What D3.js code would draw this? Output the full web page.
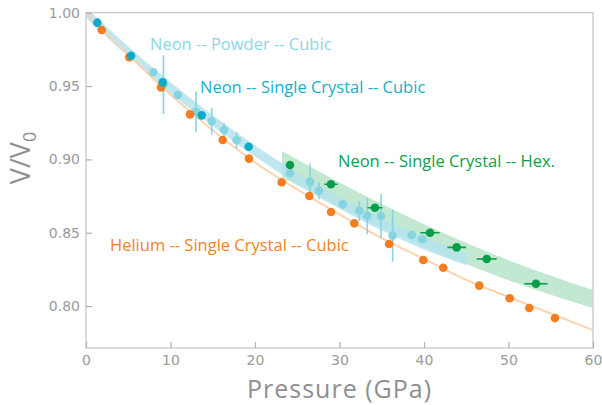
<!DOCTYPE html>
<html><head><meta charset="utf-8">
<script src="https://cdn.jsdelivr.net/npm/d3@7"></script>
<style>body{margin:0;background:#fff}svg{display:block}</style>
</head><body>
<script>
// ---- data ----
const xTicks = [0, 10, 20, 30, 40, 50, 60];
const yTicks = [0.80, 0.85, 0.90, 0.95, 1.00];

// Helium -- single crystal -- cubic : [P (GPa), V/V0]
const heliumP = [1.86, 5.12, 8.88, 12.31, 16.18, 19.29, 23.16, 26.43, 29.0, 31.75, 35.86, 39.92, 42.28, 46.54, 50.14, 52.46, 55.5];
const heliumV = [0.9882, 0.9696, 0.9491, 0.9307, 0.9132, 0.9005, 0.8844, 0.8750, 0.8641, 0.8564, 0.8423, 0.8314, 0.8261, 0.8139, 0.8053, 0.7987, 0.7918];
// Helium fit line
const heliumFitP = [0, 5, 10, 15, 20, 25, 30, 35, 40, 45, 50, 55, 60];
const heliumFitV = [1.0, 0.9715, 0.9442, 0.9198, 0.8979, 0.8795, 0.8625, 0.8463, 0.8321, 0.8179, 0.8062, 0.7949, 0.7837];

// Neon -- single crystal -- cubic
const neonScP = [1.34, 5.33, 9.08, 13.69, 19.25];
const neonScV = [0.9932, 0.9707, 0.9525, 0.9300, 0.9086];

// Neon -- powder -- cubic (with V/V0 error)
const neonPwP = [7.97, 9.17, 10.85, 13.02, 14.88, 16.33, 17.83, 24.14, 26.51, 27.57, 30.38, 32.34, 33.29, 34.91, 36.29, 38.54, 39.8];
const neonPwV = [0.9594, 0.9510, 0.9439, 0.9325, 0.9260, 0.9200, 0.9130, 0.8905, 0.8848, 0.8786, 0.8694, 0.8650, 0.8614, 0.8614, 0.8480, 0.8484, 0.8455];
const neonPwErr = [0, 0.020, 0.002, 0.0137, 0.009, 0.005, 0.0055, 0, 0.0123, 0.0058, 0.003, 0.0068, 0.0125, 0.015, 0.0176, 0, 0];
// Neon powder fit band (centre and half-width)
const neonBandP = [0, 5, 10, 15, 20, 25, 30, 35, 40, 45];
const neonBandV = [1.0, 0.9735, 0.9489, 0.9263, 0.9057, 0.8870, 0.8703, 0.8556, 0.8428, 0.8321];
const neonBandHalf = [0.0034, 0.0035, 0.0036, 0.0037, 0.0038, 0.0039, 0.0040, 0.0041, 0.0042, 0.0043];

// Neon -- single crystal -- hexagonal (with pressure error)
const neonHexP = [24.14, 28.99, 34.2, 40.71, 43.87, 47.42, 53.25];
const neonHexV = [0.8962, 0.8830, 0.8670, 0.8500, 0.8400, 0.8321, 0.8152];
const neonHexErr = [0, 0.79, 0.89, 1.14, 1.1, 1.18, 1.38];
// Hex fit band
const hexBandP = [23.2, 30, 40, 50, 60];
const hexBandHi = [0.9057, 0.8842, 0.8558, 0.8313, 0.8109];
const hexBandLo = [0.8880, 0.8675, 0.8406, 0.8176, 0.7987];

// ---- drawing ----
const W = 602, H = 405;
const svg = d3.select("body").append("svg").attr("width", W).attr("height", H);
const x = d3.scaleLinear().domain([0, 60]).range([86, 593]);
const y = d3.scaleLinear().domain([0.7714, 1.0]).range([348, 12.7]);

const frameCol = "#cfcfcf", textCol = "#9a9a9a";
const C = {orange: "#f47d20", orangeLine: "#fcd3b0", teal: "#0eaac6", light: "#86d3e1",
           lightBand: "#b5e3ed", green: "#0a9e4a", greenBand: "#bfe7cf"};

svg.append("defs").append("clipPath").attr("id", "c")
  .append("rect").attr("x", 86).attr("y", 12.7).attr("width", 507).attr("height", 335.3);
const plot = svg.append("g").attr("clip-path", "url(#c)");

// bands
const hexBand = hexBandP.map((p, i) => ({p, hi: hexBandHi[i], lo: hexBandLo[i]}));
plot.append("path").datum(hexBand).attr("fill", C.greenBand).attr("opacity", 0.95)
  .attr("d", d3.area().x(d => x(d.p)).y0(d => y(d.lo)).y1(d => y(d.hi)).curve(d3.curveMonotoneX));
const neBand = neonBandP.map((p, i) => ({p, v: neonBandV[i], h: neonBandHalf[i]}));
plot.append("path").datum(neBand).attr("fill", C.lightBand).attr("opacity", 0.85)
  .attr("d", d3.area().x(d => x(d.p)).y0(d => y(d.v - d.h)).y1(d => y(d.v + d.h)).curve(d3.curveMonotoneX));

// helium fit line
const heFit = heliumFitP.map((p, i) => ({p, v: heliumFitV[i]}));
plot.append("path").datum(heFit).attr("fill", "none").attr("stroke", C.orangeLine).attr("stroke-width", 2)
  .attr("d", d3.line().x(d => x(d.p)).y(d => y(d.v)).curve(d3.curveMonotoneX));

// neon powder points + vertical error bars
const pw = neonPwP.map((p, i) => ({p, v: neonPwV[i], e: neonPwErr[i]}));
plot.selectAll(".pwe").data(pw.filter(d => d.e > 0)).join("line")
  .attr("x1", d => x(d.p)).attr("x2", d => x(d.p))
  .attr("y1", d => y(d.v - d.e)).attr("y2", d => y(d.v + d.e))
  .attr("stroke", C.light).attr("stroke-width", 1.6);
plot.selectAll(".pw").data(pw).join("circle")
  .attr("cx", d => x(d.p)).attr("cy", d => y(d.v)).attr("r", 4.3).attr("fill", C.light);

// helium points
plot.selectAll(".he").data(heliumP.map((p, i) => ({p, v: heliumV[i]}))).join("circle")
  .attr("cx", d => x(d.p)).attr("cy", d => y(d.v)).attr("r", 4.3).attr("fill", C.orange);

// neon single crystal cubic
plot.selectAll(".sc").data(neonScP.map((p, i) => ({p, v: neonScV[i]}))).join("circle")
  .attr("cx", d => x(d.p)).attr("cy", d => y(d.v)).attr("r", 4.3).attr("fill", C.teal);

// neon hex + horizontal error bars
const hx = neonHexP.map((p, i) => ({p, v: neonHexV[i], e: neonHexErr[i]}));
plot.selectAll(".hxe").data(hx.filter(d => d.e > 0)).join("line")
  .attr("x1", d => x(d.p - d.e)).attr("x2", d => x(d.p + d.e))
  .attr("y1", d => y(d.v)).attr("y2", d => y(d.v))
  .attr("stroke", C.green).attr("stroke-width", 1.6);
plot.selectAll(".hx").data(hx).join("circle")
  .attr("cx", d => x(d.p)).attr("cy", d => y(d.v)).attr("r", 4.3).attr("fill", C.green);

// frame
svg.append("rect").attr("x", 86).attr("y", 12.7).attr("width", 507).attr("height", 335.3)
  .attr("fill", "none").attr("stroke", frameCol).attr("stroke-width", 1.5);

// axes
const xAxis = svg.append("g").attr("transform", "translate(0,348)")
  .call(d3.axisBottom(x).tickValues(xTicks).tickSizeInner(-6).tickSizeOuter(0).tickPadding(7).tickFormat(d3.format("d")));
const yAxis = svg.append("g").attr("transform", "translate(86,0)")
  .call(d3.axisLeft(y).tickValues(yTicks).tickSizeInner(-6).tickSizeOuter(0).tickPadding(6).tickFormat(d3.format(".2f")));
[xAxis, yAxis].forEach(a => {
  a.select(".domain").remove();
  a.selectAll(".tick line").attr("stroke", "#b0b0b0").attr("stroke-width", 1.2);
  a.selectAll(".tick text").attr("fill", textCol).style("font-family", "DejaVu Sans").style("font-size", "14px");
});

// axis titles
svg.append("text").attr("x", 339.5).attr("y", 398).attr("text-anchor", "middle")
  .attr("fill", "#8f8f8f").style("font-family", "Open Sans").style("font-size", "25px")
  .style("letter-spacing", "1px").text("Pressure (GPa)");
const yt = svg.append("text").attr("transform", "translate(30,158) rotate(-90)").attr("text-anchor", "middle")
  .attr("fill", "#8f8f8f").style("font-family", "Open Sans").style("font-size", "27px");
yt.append("tspan").text("V/V");
yt.append("tspan").attr("dy", 6).style("font-size", "18px").text("0");

// series labels
const lab = [
  {t: "Neon -- Powder -- Cubic", x: 150, y: 50, c: "#8fd6e4"},
  {t: "Neon -- Single Crystal -- Cubic", x: 200, y: 93, c: "#13b1c9"},
  {t: "Neon -- Single Crystal -- Hex.", x: 338, y: 167, c: "#0aa24c"},
  {t: "Helium -- Single Crystal -- Cubic", x: 110, y: 251, c: "#f58220"}
];
svg.selectAll(".lab").data(lab).join("text")
  .attr("x", d => d.x).attr("y", d => d.y).attr("fill", d => d.c)
  .style("font-family", "Open Sans").style("font-size", "16.5px").text(d => d.t);
</script>
</body></html>
